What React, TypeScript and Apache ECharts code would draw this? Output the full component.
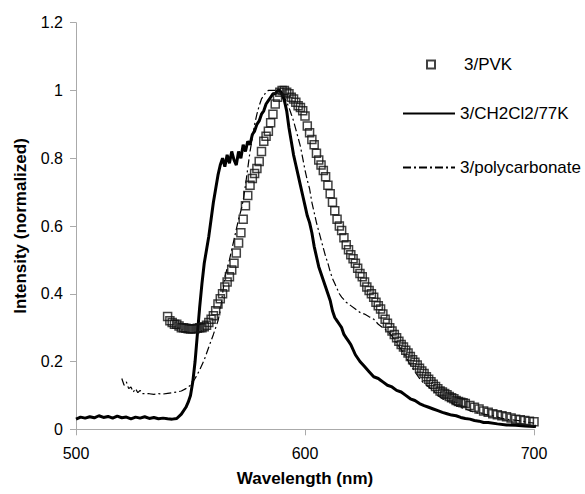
import React, { useEffect, useRef } from "react";
import * as echarts from "echarts";

// 3/CH2Cl2/77K (thick solid line)
const solidWavelength = [
  500, 502, 504, 506, 508, 510, 512, 514, 516, 518, 520, 522, 524, 526, 528, 530, 532, 534, 536, 538,
  540, 542, 544, 546, 548, 549, 550, 551, 552, 553, 554, 555, 556, 557, 558, 559, 560, 561, 562, 563,
  564, 565, 566, 567, 568, 569, 570, 571, 572, 573, 574, 575, 576, 577, 578, 579, 580, 581, 582, 583,
  584, 585, 586, 587, 588, 589, 590, 591, 592, 593, 594, 595, 596, 597, 598, 599, 600, 601, 602, 603,
  604, 605, 606, 607, 608, 609, 610, 611, 612, 613, 614, 615, 616, 617, 618, 619, 620, 622, 624, 626,
  628, 630, 632, 633, 634, 636, 638, 640, 642, 644, 646, 648, 650, 652, 654, 656, 658, 660, 662, 664,
  666, 668, 670, 672, 674, 676, 678, 680, 684, 688, 692, 696, 700, 702,
];
const solidIntensity = [
  0.030, 0.036, 0.033, 0.037, 0.034, 0.040, 0.035, 0.038, 0.033, 0.039, 0.034, 0.036, 0.031, 0.036, 0.033, 0.037, 0.032, 0.035, 0.031, 0.033,
  0.031, 0.030, 0.032, 0.045, 0.065, 0.080, 0.100, 0.140, 0.200, 0.280, 0.360, 0.430, 0.490, 0.530, 0.570, 0.620, 0.670, 0.710, 0.750, 0.780,
  0.800, 0.775, 0.810, 0.785, 0.820, 0.795, 0.780, 0.820, 0.800, 0.840, 0.820, 0.850, 0.840, 0.870, 0.880, 0.900, 0.910, 0.930, 0.940, 0.960,
  0.970, 0.980, 0.990, 0.990, 1.000, 1.000, 0.990, 0.970, 0.940, 0.890, 0.850, 0.810, 0.780, 0.750, 0.720, 0.690, 0.660, 0.630, 0.610, 0.580,
  0.540, 0.510, 0.480, 0.460, 0.440, 0.420, 0.400, 0.380, 0.350, 0.330, 0.320, 0.310, 0.300, 0.280, 0.270, 0.260, 0.250, 0.220, 0.200, 0.185,
  0.170, 0.155, 0.150, 0.145, 0.140, 0.130, 0.125, 0.115, 0.110, 0.100, 0.090, 0.085, 0.076, 0.070, 0.065, 0.060, 0.055, 0.050, 0.046, 0.042,
  0.040, 0.035, 0.032, 0.030, 0.026, 0.024, 0.020, 0.020, 0.016, 0.013, 0.012, 0.010, 0.008, 0.010,
];

// 3/polycarbonate (thin dash-dot line)
const polyWavelength = [
  520, 521, 522, 523, 524, 525, 526, 527, 528, 529, 530, 532, 534, 536, 538, 540, 542, 544, 546, 548,
  550, 552, 554, 556, 558, 560, 562, 563, 564, 565, 566, 567, 568, 569, 570, 571, 572, 573, 574, 575,
  576, 577, 578, 579, 580, 581, 582, 583, 584, 586, 588, 589, 590, 591, 592, 593, 594, 595, 596, 597,
  598, 599, 600, 601, 602, 603, 604, 605, 606, 607, 608, 609, 610, 611, 612, 613, 614, 615, 616, 618,
  620, 622, 624, 626, 628, 630, 632, 634, 636, 638, 640, 642, 644, 646, 648, 650, 652, 654, 656, 658,
  660, 662, 664, 666, 668, 670, 674, 678, 682, 686, 690, 694, 698, 700,
];
const polyIntensity = [
  0.150, 0.130, 0.140, 0.120, 0.125, 0.110, 0.120, 0.108, 0.115, 0.105, 0.105, 0.105, 0.103, 0.105, 0.104, 0.106, 0.108, 0.110, 0.113, 0.120,
  0.130, 0.150, 0.175, 0.205, 0.243, 0.280, 0.320, 0.350, 0.400, 0.450, 0.475, 0.500, 0.530, 0.560, 0.590, 0.620, 0.645, 0.675, 0.720, 0.770,
  0.820, 0.860, 0.900, 0.930, 0.955, 0.975, 0.985, 0.995, 1.000, 1.000, 1.000, 0.995, 0.990, 0.980, 0.965, 0.950, 0.930, 0.910, 0.885, 0.860,
  0.835, 0.800, 0.765, 0.735, 0.710, 0.670, 0.640, 0.610, 0.585, 0.560, 0.535, 0.510, 0.490, 0.465, 0.445, 0.430, 0.415, 0.400, 0.390, 0.375,
  0.365, 0.355, 0.345, 0.340, 0.332, 0.325, 0.310, 0.300, 0.290, 0.275, 0.255, 0.235, 0.215, 0.190, 0.170, 0.150, 0.135, 0.125, 0.115, 0.100,
  0.090, 0.085, 0.078, 0.070, 0.065, 0.060, 0.050, 0.045, 0.040, 0.032, 0.028, 0.025, 0.020, 0.018,
];

// 3/PVK (open squares)
const pvkWavelength = [
  540, 541, 542, 543, 544, 545, 546, 547, 548, 549, 550, 551, 552, 553, 554, 555, 556, 557, 558, 559,
  560, 561, 562, 563, 564, 565, 566, 567, 568, 569, 570, 571, 572, 573, 574, 575, 576, 577, 578, 579,
  580, 581, 582, 583, 584, 585, 586, 587, 588, 589, 590, 591, 592, 593, 594, 595, 596, 597, 598, 599,
  600, 601, 602, 603, 604, 605, 606, 607, 608, 609, 610, 611, 612, 613, 614, 615, 616, 617, 618, 619,
  620, 621, 622, 623, 624, 625, 626, 627, 628, 629, 630, 631, 632, 633, 634, 635, 636, 637, 638, 639,
  640, 641, 642, 643, 644, 645, 646, 647, 648, 649, 650, 651, 652, 653, 654, 655, 656, 657, 658, 659,
  660, 661, 662, 663, 664, 665, 666, 667, 668, 669, 670, 672, 674, 676, 678, 680, 682, 684, 686, 688,
  690, 692, 694, 696, 698, 700, 701,
];
const pvkIntensity = [
  0.333, 0.320, 0.315, 0.310, 0.310, 0.305, 0.300, 0.300, 0.298, 0.297, 0.296, 0.297, 0.297, 0.298, 0.300, 0.300, 0.303, 0.307, 0.315, 0.325,
  0.335, 0.350, 0.370, 0.385, 0.400, 0.420, 0.435, 0.450, 0.470, 0.490, 0.520, 0.550, 0.580, 0.620, 0.660, 0.690, 0.720, 0.740, 0.755, 0.770,
  0.790, 0.820, 0.850, 0.865, 0.880, 0.905, 0.930, 0.960, 0.980, 0.995, 1.000, 1.000, 0.995, 0.990, 0.980, 0.975, 0.965, 0.955, 0.950, 0.940,
  0.925, 0.895, 0.875, 0.855, 0.840, 0.815, 0.795, 0.780, 0.764, 0.745, 0.720, 0.695, 0.670, 0.645, 0.620, 0.600, 0.587, 0.565, 0.545, 0.530,
  0.515, 0.503, 0.490, 0.475, 0.460, 0.450, 0.435, 0.420, 0.410, 0.400, 0.390, 0.375, 0.365, 0.355, 0.340, 0.325, 0.313, 0.300, 0.290, 0.280,
  0.270, 0.260, 0.250, 0.243, 0.233, 0.225, 0.215, 0.205, 0.198, 0.190, 0.180, 0.172, 0.165, 0.155, 0.148, 0.140, 0.133, 0.126, 0.120, 0.113,
  0.110, 0.106, 0.102, 0.097, 0.093, 0.090, 0.085, 0.082, 0.080, 0.078, 0.076, 0.070, 0.065, 0.060, 0.054, 0.050, 0.046, 0.043, 0.040, 0.037,
  0.033, 0.030, 0.028, 0.026, 0.024, 0.022, 0.020,
];

const xTicks = { min: 500, max: 700, interval: 100 };
const yTicks = { min: 0, max: 1.2, interval: 0.2 };

const zip = (xs: number[], ys: number[]) => xs.map((x, i) => [x, ys[i]]);

const FONT = "'Liberation Sans', Arial, sans-serif";

export default function App() {
  const ref = useRef<HTMLDivElement>(null);
  useEffect(() => {
    if (!ref.current) return;
    const chart = echarts.init(ref.current, null, { renderer: "svg" });
    chart.setOption({
      animation: false,
      backgroundColor: "#fff",
      textStyle: { fontFamily: FONT, color: "#000" },
      grid: { left: 76, right: 51, top: 22.7, bottom: 64.7, containLabel: false, outerBoundsMode: "none" },
      legend: [
        {
          data: ["3/PVK"],
          left: 426,
          top: 56,
          padding: 0,
          itemWidth: 8,
          itemHeight: 8,
          textStyle: { fontFamily: FONT, fontSize: 17, color: "#000", padding: [0, 0, 0, 24] },
        },
        {
          data: ["3/CH2Cl2/77K", "3/polycarbonate"],
          orient: "vertical",
          left: 402,
          top: 105,
          padding: 0,
          itemWidth: 52,
          itemHeight: 14,
          itemGap: 37,
          itemStyle: { opacity: 0 },
          textStyle: { fontFamily: FONT, fontSize: 17, color: "#000" },
        },
      ],
      xAxis: {
        type: "value",
        min: xTicks.min,
        max: xTicks.max,
        interval: xTicks.interval,
        name: "Wavelength (nm)",
        nameLocation: "middle",
        nameGap: 41,
        nameTextStyle: { fontFamily: FONT, fontSize: 17, fontWeight: "bold", color: "#000" },
        axisLine: { lineStyle: { color: "#aaa", width: 1 } },
        axisTick: { show: true, length: 6, inside: false, lineStyle: { color: "#aaa" } },
        axisLabel: { fontFamily: FONT, fontSize: 16, color: "#000", margin: 16 },
        splitLine: { show: false },
      },
      yAxis: {
        type: "value",
        min: yTicks.min,
        max: yTicks.max,
        interval: yTicks.interval,
        name: "Intensity (normalized)",
        nameLocation: "middle",
        nameGap: 47,
        nameTextStyle: { fontFamily: FONT, fontSize: 17, fontWeight: "bold", color: "#000" },
        axisLine: { show: true, lineStyle: { color: "#aaa", width: 1 } },
        axisTick: { show: true, length: 6, inside: false, lineStyle: { color: "#aaa" } },
        axisLabel: { fontFamily: FONT, fontSize: 16, color: "#000", margin: 13 },
        splitLine: { show: false },
      },
      series: [
        {
          name: "3/CH2Cl2/77K",
          type: "line",
          data: zip(solidWavelength, solidIntensity),
          symbol: "none",
          showSymbol: false,
          lineStyle: { color: "#000", width: 3 },
          itemStyle: { color: "#000" },
          z: 2,
        },
        {
          name: "3/polycarbonate",
          type: "line",
          data: zip(polyWavelength, polyIntensity),
          symbol: "none",
          showSymbol: false,
          lineStyle: { color: "#000", width: 1.2, type: [8, 3, 2, 3] },
          itemStyle: { color: "#000" },
          z: 2,
        },
        {
          name: "3/PVK",
          type: "scatter",
          data: zip(pvkWavelength, pvkIntensity),
          symbol: "rect",
          symbolSize: 8,
          itemStyle: { color: "rgba(255,255,255,0)", borderColor: "#111", borderWidth: 1.5 },
          z: 3,
        },
      ],
    });
    return () => chart.dispose();
  }, []);
  return (
    <div
      ref={ref}
      style={{ position: "fixed", left: 0, top: 0, width: 585, height: 494, background: "#fff" }}
    />
  );
}
